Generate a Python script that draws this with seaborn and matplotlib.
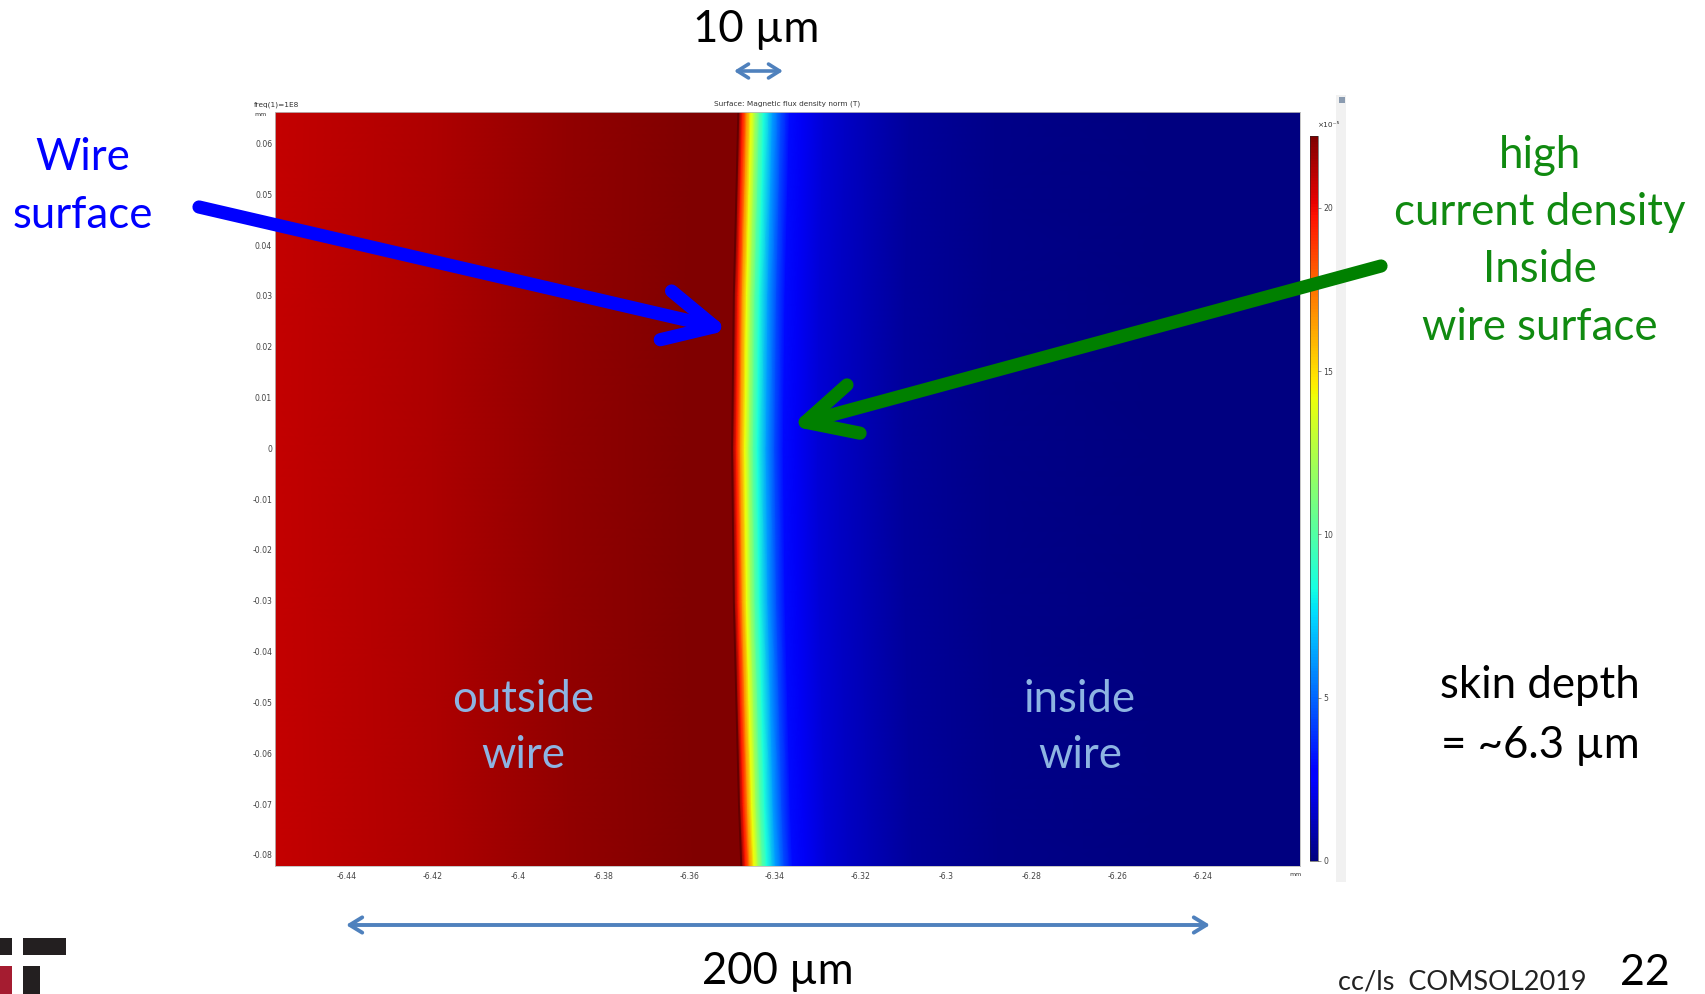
import numpy as np
import matplotlib.pyplot as plt
import seaborn as sns
from matplotlib.patches import FancyArrowPatch, Rectangle

# B-field norm across the wire surface (x1e-5 T)
# distance from the surface in um, negative = outside, positive = inside the wire
dist_um = [-130, -100, -70, -40, -10, 0, 1, 2, 3, 4, 5, 6, 8, 10, 12, 15, 20, 25, 30, 40, 60, 100, 150]
b_norm = [20.6, 20.9, 21.3, 21.8, 22.2, 22.4, 19.6, 16.8, 14.2, 12.0, 10.0, 8.5, 6.2, 4.4,
          3.0, 2.3, 1.7, 1.35, 1.05, 0.6, 0.22, 0.05, 0.0]

# where the wire surface sits (mm) at a few heights
edge_y = [0.075, 0.05, 0.03, 0.0, -0.03, -0.05, -0.07, -0.09]
edge_x = [-6.3483, -6.3490, -6.3496, -6.3500, -6.3496, -6.3490, -6.3484, -6.3475]

x_ticks = [-6.44, -6.42, -6.40, -6.38, -6.36, -6.34, -6.32, -6.30, -6.28, -6.26, -6.24]
y_ticks = [0.06, 0.05, 0.04, 0.03, 0.02, 0.01, 0.0, -0.01, -0.02, -0.03, -0.04, -0.05, -0.06, -0.07, -0.08]
cbar_ticks = [0, 5, 10, 15, 20]

W, H = 1705, 994

sns.set_style("white")
plt.rcParams['font.family'] = ['DejaVu Sans']

fig = plt.figure(figsize=(W / 100, H / 100), dpi=100)
fig.patch.set_facecolor('white')


def fx(px):
    return px / W


def fy(py):
    return 1 - py / H


# COMSOL plot window
ax = fig.add_axes([fx(275), fy(866), 1025 / W, 754 / H])
cax = fig.add_axes([fx(1310), fy(861), 8 / W, 725 / H])

X = np.array(edge_x)[:, None] + np.array(dist_um)[None, :] / 1000
Y = np.repeat(np.array(edge_y)[:, None], len(dist_um), axis=1)
C = np.tile(b_norm, (len(edge_y), 1))
mesh = ax.pcolormesh(X, Y, C, shading='gouraud', cmap='jet', vmin=0, vmax=22.2)
ax.plot(edge_x, edge_y, color='#5a0000', lw=1.4, alpha=0.8)

ax.set_xlim(-6.4568, -6.2173)
ax.set_ylim(-0.0822, 0.0662)
ax.set_xticks(x_ticks)
ax.set_xticklabels([f"{v:g}" for v in x_ticks])
ax.set_yticks(y_ticks)
ax.set_yticklabels([f"{v:g}" for v in y_ticks])
ax.tick_params(axis='x', length=0, pad=4, labelsize=5.6, colors='#444444')
ax.tick_params(axis='y', length=0, pad=2, labelsize=5.6, colors='#444444')
for s in ax.spines.values():
    s.set_color('#bbbbbb')
    s.set_linewidth(0.6)

cb = fig.colorbar(mesh, cax=cax, ticks=cbar_ticks)
cb.outline.set_linewidth(0.4)
cax.tick_params(labelsize=5.6, length=2, width=0.4, pad=2, colors='#444444')

small = dict(fontsize=5.3, color='#333333')
fig.text(fx(254), fy(105), "freq(1)=1E8", ha='left', va='center', **small)
fig.text(fx(254), fy(115), "mm", ha='left', va='center', fontsize=4.5, color='#333333')
fig.text(fx(787), fy(104), "Surface: Magnetic flux density norm (T)", ha='center', va='center', **small)
fig.text(fx(1295), fy(875), "mm", ha='center', va='center', fontsize=4.5, color='#333333')
fig.text(fx(1329), fy(125), "×10⁻⁵", ha='center', va='center', **small)
fig.add_artist(Rectangle((fx(1336), fy(882)), 10 / W, 787 / H, transform=fig.transFigure,
                         facecolor='#f1f1f1', edgecolor='none', zorder=0))
fig.add_artist(Rectangle((fx(1339), fy(103)), 6 / W, 6 / H, transform=fig.transFigure,
                         facecolor='#8a9bb0', edgecolor='none'))

# slide annotations
big = dict(family=['Lato', 'DejaVu Sans'], fontsize=31.5, ha='center', va='center')


def say(px, py, s, color):
    fig.text(fx(px), fy(py + 3), s, color=color, **big)


def arrow(p0, p1, color, lw, hl, hw, style='->'):
    a = FancyArrowPatch((fx(p0[0]), fy(p0[1])), (fx(p1[0]), fy(p1[1])), transform=fig.transFigure,
                        arrowstyle=f"{style},head_length={hl},head_width={hw}", mutation_scale=10,
                        color=color, lw=lw, capstyle='round', joinstyle='round', shrinkA=0, shrinkB=0)
    fig.add_artist(a)


say(756, 27, "10 µm", 'black')
arrow((734, 71), (783, 71), '#4F81BD', 2.6, 0.8, 0.5, '<->')

say(83, 155, "Wire", '#0000FF')
say(83, 213, "surface", '#0000FF')
arrow((199, 207), (729, 330), '#0000FF', 9.5, 3.6, 1.8)

say(1540, 152, "high", '#108a10')
say(1540, 209, "current density", '#108a10')
say(1540, 266, "Inside", '#108a10')
say(1540, 324, "wire surface", '#108a10')
arrow((1381, 266), (791, 426), '#008000', 9.5, 3.6, 1.8)

say(523, 696, "outside", '#8DB4E2')
say(523, 752, "wire", '#8DB4E2')
say(1080, 696, "inside", '#8DB4E2')
say(1080, 752, "wire", '#8DB4E2')

say(1540, 683, "skin depth", 'black')
say(1540, 742, "= ~6.3 µm", 'black')

arrow((346, 925), (1210, 925), '#4F81BD', 2.8, 0.9, 0.55, '<->')
say(778, 969, "200 µm", 'black')

fig.text(fx(1462), fy(982), "cc/ls  COMSOL2019", family=['Lato', 'DejaVu Sans'], fontsize=19.5,
         ha='center', va='center', color='#222222')
fig.text(fx(1645), fy(973), "22", family=['Lato', 'DejaVu Sans'], fontsize=31,
         ha='center', va='center', color='black')

# logo in the lower left corner
for x0, y0, w, h, c in [(0, 938, 12, 17, '#231F20'), (23, 938, 43, 17, '#231F20'),
                        (0, 966, 12, 28, '#A51C30'), (23, 966, 17, 28, '#231F20')]:
    fig.add_artist(Rectangle((fx(x0), fy(y0 + h)), w / W, h / H, transform=fig.transFigure,
                             facecolor=c, edgecolor='none'))

fig.savefig('out.png', dpi=100)
